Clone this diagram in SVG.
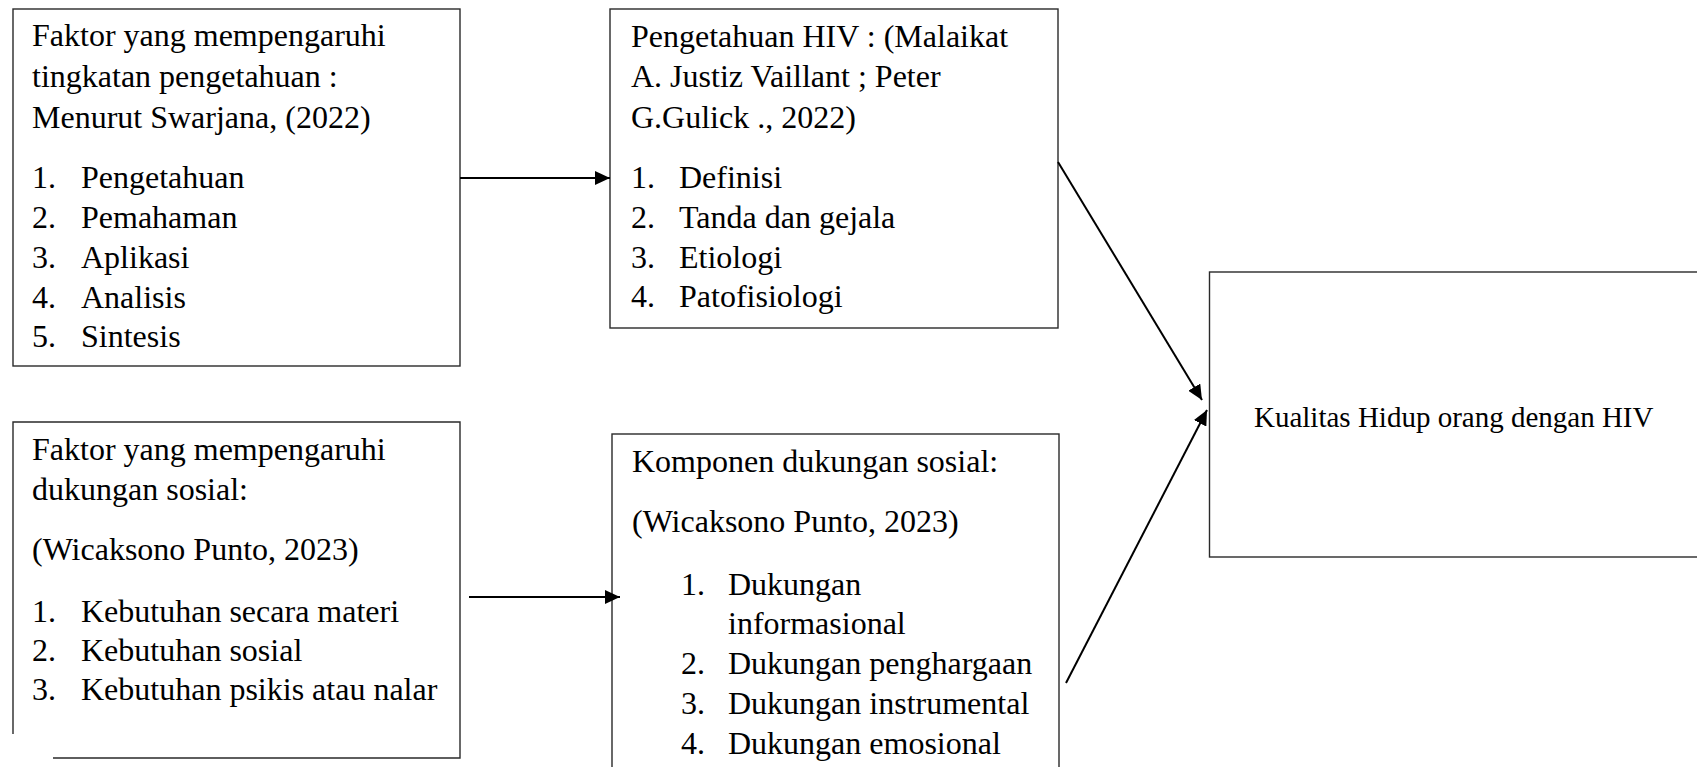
<svg xmlns="http://www.w3.org/2000/svg" width="1697" height="767" viewBox="0 0 1697 767">
<style>
.box{fill:#fff;stroke:#2a2a2a;stroke-width:1.4}
.t{font-family:"Liberation Serif","Times New Roman",serif;font-size:32px;fill:#000}
.t2{font-family:"Liberation Serif","Times New Roman",serif;font-size:29px;fill:#000}
.conn{stroke:#000;stroke-width:2;fill:none}
</style>
<defs>
<marker id="ah" markerUnits="userSpaceOnUse" markerWidth="15" markerHeight="14" viewBox="0 0 15 14" refX="15" refY="7" orient="auto">
<path d="M0,0 L15,7 L0,14 z" fill="#000"/>
</marker>
</defs>
<rect width="1697" height="767" fill="#fff"/>

<g id="node-faktor-pengetahuan">
<rect class="box" x="13" y="9" width="447" height="357"/>
<text class="t" x="32" y="46">Faktor yang mempengaruhi</text>
<text class="t" x="32" y="87">tingkatan pengetahuan :</text>
<text class="t" x="32" y="128">Menurut Swarjana, (2022)</text>
<text class="t" x="32" y="188">1.</text><text class="t" x="81" y="188">Pengetahuan</text>
<text class="t" x="32" y="228">2.</text><text class="t" x="81" y="228">Pemahaman</text>
<text class="t" x="32" y="268">3.</text><text class="t" x="81" y="268">Aplikasi</text>
<text class="t" x="32" y="308">4.</text><text class="t" x="81" y="308">Analisis</text>
<text class="t" x="32" y="347">5.</text><text class="t" x="81" y="347">Sintesis</text>
</g>

<g id="node-pengetahuan-hiv">
<rect class="box" x="610" y="9" width="448" height="319"/>
<text class="t" x="631" y="46.5">Pengetahuan HIV : (Malaikat</text>
<text class="t" x="631" y="87">A. Justiz Vaillant ; Peter</text>
<text class="t" x="631" y="128">G.Gulick ., 2022)</text>
<text class="t" x="631" y="188">1.</text><text class="t" x="679" y="188">Definisi</text>
<text class="t" x="631" y="228">2.</text><text class="t" x="679" y="228">Tanda dan gejala</text>
<text class="t" x="631" y="268">3.</text><text class="t" x="679" y="268">Etiologi</text>
<text class="t" x="631" y="307">4.</text><text class="t" x="679" y="307">Patofisiologi</text>
</g>

<g id="node-faktor-dukungan">
<path class="box" d="M53,758 H460 V422 H13 V734"/>
<text class="t" x="32" y="460">Faktor yang mempengaruhi</text>
<text class="t" x="32" y="500">dukungan sosial:</text>
<text class="t" x="32" y="560">(Wicaksono Punto, 2023)</text>
<text class="t" x="32" y="621.5">1.</text><text class="t" x="81" y="621.5">Kebutuhan secara materi</text>
<text class="t" x="32" y="661">2.</text><text class="t" x="81" y="661">Kebutuhan sosial</text>
<text class="t" x="32" y="700">3.</text><text class="t" x="81" y="700">Kebutuhan psikis atau nalar</text>
</g>

<g id="node-komponen-dukungan">
<rect class="box" x="612" y="434" width="447" height="400"/>
<text class="t" x="632" y="471.5">Komponen dukungan sosial:</text>
<text class="t" x="632" y="531.5">(Wicaksono Punto, 2023)</text>
<text class="t" x="681" y="595">1.</text><text class="t" x="728" y="595">Dukungan</text>
<text class="t" x="728" y="633.5">informasional</text>
<text class="t" x="681" y="673.5">2.</text><text class="t" x="728" y="673.5">Dukungan penghargaan</text>
<text class="t" x="681" y="713.5">3.</text><text class="t" x="728" y="713.5">Dukungan instrumental</text>
<text class="t" x="681" y="753.5">4.</text><text class="t" x="728" y="753.5">Dukungan emosional</text>
</g>

<g id="node-kualitas-hidup">
<rect class="box" x="1209.5" y="272" width="600" height="285"/>
<text class="t2" x="1254" y="427">Kualitas Hidup orang dengan HIV</text>
</g>

<g id="connectors">
<line class="conn" x1="460" y1="178" x2="610" y2="178" marker-end="url(#ah)"/>
<line class="conn" x1="469" y1="597" x2="620" y2="597" marker-end="url(#ah)"/>
<line class="conn" x1="1058" y1="162" x2="1202" y2="400" marker-end="url(#ah)"/>
<line class="conn" x1="1066" y1="683" x2="1207" y2="410" marker-end="url(#ah)"/>
</g>
</svg>
